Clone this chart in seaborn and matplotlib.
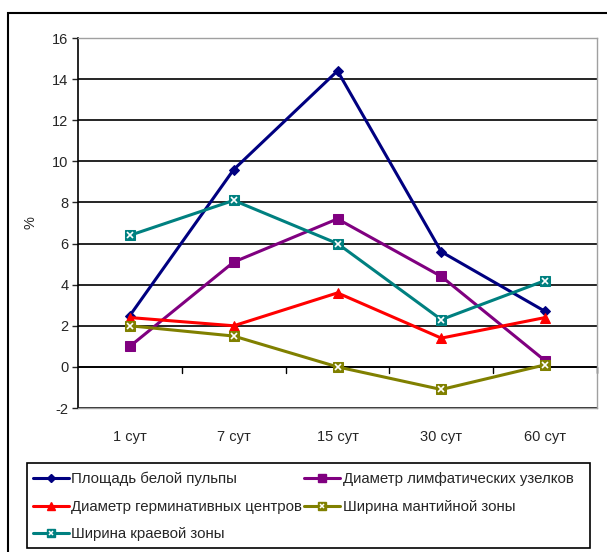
import pandas as pd
import numpy as np
import matplotlib
matplotlib.use("Agg")
import matplotlib.pyplot as plt
import matplotlib.patches as mpatches
import seaborn as sns

days = ["1 сут", "7 сут", "15 сут", "30 сут", "60 сут"]
series_names = [
    "Площадь белой пульпы",
    "Диаметр лимфатических узелков",
    "Диаметр герминативных центров",
    "Ширина мантийной зоны",
    "Ширина краевой зоны",
]
white_pulp = [2.5, 9.6, 14.4, 5.6, 2.7]
lymph_nodules = [1.0, 5.1, 7.2, 4.4, 0.3]
germ_centers = [2.4, 2.0, 3.6, 1.4, 2.4]
mantle_zone = [2.0, 1.5, 0.0, -1.1, 0.1]
marginal_zone = [6.4, 8.1, 6.0, 2.3, 4.2]

colors = ["#000080", "#800080", "#FF0000", "#808000", "#008080"]
markers = ["D", "s", "^", "s", "s"]
msizes = [5, 7.5, 6.5, 7.5, 7.5]
crossed = [False, False, False, True, True]

values = [white_pulp, lymph_nodules, germ_centers, mantle_zone, marginal_zone]
rows = []
for name, vals in zip(series_names, values):
    for i, (d, v) in enumerate(zip(days, vals)):
        rows.append({"series": name, "day": d, "pos": i, "value": v})
df = pd.DataFrame(rows)

sns.set_style("white")
plt.rcParams["font.family"] = ["Liberation Sans", "DejaVu Sans"]

fig = plt.figure(figsize=(6.07, 5.52), dpi=100)
ax = fig.add_axes([78 / 607, 1 - 408 / 552, (597 - 78) / 607, (408 - 38) / 552])

handles = []
for name, col, mk, ms, cx in zip(series_names, colors, markers, msizes, crossed):
    sub = df[df["series"] == name]
    sns.lineplot(data=sub, x="pos", y="value", color=col, marker=mk,
                 markersize=ms, markeredgecolor=col, linewidth=2.2,
                 ax=ax, legend=False, sort=False)
    h, = ax.plot([], [], color=col, marker=mk, markersize=ms * 0.8,
                 markeredgecolor=col, linewidth=2.2)
    if cx:
        ax.plot(sub["pos"], sub["value"], linestyle="none", marker="x",
                markersize=4, markeredgecolor="white", markeredgewidth=1.2)
        hx, = ax.plot([], [], linestyle="none", marker="x", markersize=3.5,
                      markeredgecolor="white", markeredgewidth=1.1)
        handles.append((h, hx))
    else:
        handles.append(h)

ax.set_xlim(-0.5, 4.5)
ax.set_ylim(-2, 16)
ax.set_yticks(np.arange(-2, 17, 2))
ax.set_yticklabels([str(v) for v in range(-2, 17, 2)], fontsize=10.5)
ax.grid(axis="y", color="black", linewidth=1.2)
ax.set_axisbelow(True)

ax.set_xticks(range(len(days)))
ax.set_xticklabels(days, fontsize=10.5)
ax.tick_params(axis="x", length=0, pad=16)
ax.tick_params(axis="y", length=4, direction="out", left=True, width=1, pad=3)
ax.set_xlabel("")
ax.set_ylabel("%", fontsize=10.5)
ax.yaxis.set_label_coords(-0.078, 0.5)

for s in ["top", "right", "bottom"]:
    ax.spines[s].set_color("#a0a0a0")
    ax.spines[s].set_linewidth(1)
ax.spines["left"].set_color("black")
ax.spines["left"].set_linewidth(1.2)

ax.axhline(0, color="black", linewidth=1.2, zorder=1)
for b in np.arange(0.5, 5.0, 1.0):
    ax.plot([b, b], [0, -0.3], color="black", linewidth=1, clip_on=False)

order = [0, 2, 4, 1, 3]
leg = fig.legend([handles[i] for i in order], [series_names[i] for i in order],
                 ncol=2, loc="upper left",
                 bbox_to_anchor=(33 / 607, 1 - 472 / 552),
                 fontsize=10.8, frameon=False, handlelength=2.4, handletextpad=0.15,
                 borderpad=0, labelspacing=0.9, columnspacing=0.15,
                 borderaxespad=0)

fig.patches.append(mpatches.Rectangle((27 / 607, 4 / 552), (590 - 27) / 607,
                                      (548 - 463) / 552,
                                      transform=fig.transFigure, fill=False,
                                      edgecolor="black", linewidth=1.2))
fig.patches.append(mpatches.Rectangle((8 / 607, -0.02), 1.1, 1 - 13 / 552 + 0.02,
                                      transform=fig.transFigure, fill=False,
                                      edgecolor="black", linewidth=1.5))

fig.savefig("out.png", dpi=100)
